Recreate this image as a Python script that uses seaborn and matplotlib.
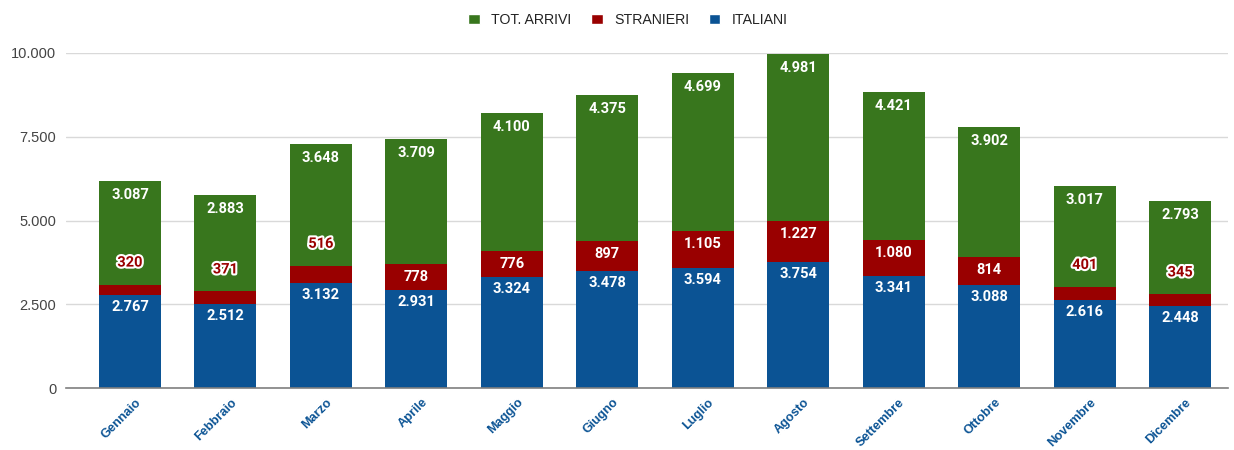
import matplotlib
matplotlib.use("Agg")
import matplotlib.pyplot as plt
import matplotlib.patheffects as pe
import matplotlib.transforms as mtrans
from matplotlib.patches import Patch
from matplotlib.ticker import FuncFormatter
import seaborn as sns
import pandas as pd

mesi = ["Gennaio", "Febbraio", "Marzo", "Aprile", "Maggio", "Giugno",
        "Luglio", "Agosto", "Settembre", "Ottobre", "Novembre", "Dicembre"]
italiani = [2767, 2512, 3132, 2931, 3324, 3478, 3594, 3754, 3341, 3088, 2616, 2448]
stranieri = [320, 371, 516, 778, 776, 897, 1105, 1227, 1080, 814, 401, 345]
tot_arrivi = [3087, 2883, 3648, 3709, 4100, 4375, 4699, 4981, 4421, 3902, 3017, 2793]

GREEN = "#38761d"
RED = "#990000"
BLUE = "#0b5394"

df = pd.DataFrame({"mese": mesi, "italiani": italiani,
                   "stranieri": stranieri, "tot": tot_arrivi})
df["top_red"] = df["italiani"] + df["stranieri"]
df["top_green"] = df["top_red"] + df["tot"]

sns.set_style("white")
plt.rcParams["font.family"] = ["Roboto", "DejaVu Sans"]
SANS = ["Liberation Sans", "DejaVu Sans"]

fig = plt.figure(figsize=(12.34, 4.5), dpi=100)
ax = fig.add_axes([66 / 1234, 1 - 388 / 450, (1228 - 66) / 1234, (388 - 53) / 450])

W = 0.65
bar_kw = dict(saturation=1, width=W, ax=ax, linewidth=0, edgecolor="none")
sns.barplot(data=df, x="mese", y="top_green", color=GREEN, zorder=2, **bar_kw)
sns.barplot(data=df, x="mese", y="top_red", color=RED, zorder=3, **bar_kw)
sns.barplot(data=df, x="mese", y="italiani", color=BLUE, zorder=4, **bar_kw)

ax.set_xlim(-0.67, 11.5)
ax.set_ylim(0, 10000)
ax.set_yticks([0, 2500, 5000, 7500, 10000])
ax.yaxis.set_major_formatter(FuncFormatter(lambda v, p: f"{int(v):,}".replace(",", ".")))
ax.grid(axis="y", color="#d9d9d9", linewidth=1, zorder=0)
ax.set_axisbelow(True)
for s in ["top", "right", "left"]:
    ax.spines[s].set_visible(False)
ax.spines["bottom"].set_color("#7f7f7f")
ax.spines["bottom"].set_linewidth(1.2)
ax.spines["bottom"].set_zorder(6)
ax.set_xlabel("")
ax.set_ylabel("")
ax.tick_params(axis="y", length=0, labelsize=10.5, labelcolor="#444444", pad=7)
for lbl in ax.get_yticklabels():
    lbl.set_family(SANS)
ax.tick_params(axis="x", length=0, pad=6)
offset = mtrans.ScaledTranslation(5 / 100, 0, fig.dpi_scale_trans)
for lbl in ax.get_xticklabels():
    lbl.set_rotation(45)
    lbl.set_ha("right")
    lbl.set_rotation_mode("anchor")
    lbl.set_color(BLUE)
    lbl.set_fontweight("bold")
    lbl.set_fontsize(9.2)
    lbl.set_family(SANS)
    lbl.set_transform(lbl.get_transform() + offset)

def fmt(v):
    return f"{v:,}".replace(",", ".")

lab_kw = dict(textcoords="offset pixels", ha="center", va="center",
              fontsize=10.5, fontweight="bold", zorder=7)
for i, r in df.iterrows():
    ax.annotate(fmt(r["tot"]), (i, r["top_green"]), xytext=(0, -14), color="white", **lab_kw)
    ax.annotate(fmt(r["italiani"]), (i, r["italiani"]), xytext=(0, -12), color="white", **lab_kw)
    if r["stranieri"] >= 600:
        ax.annotate(fmt(r["stranieri"]), (i, r["top_red"]), xytext=(0, -13), color="white", **lab_kw)
    else:
        t = ax.annotate(fmt(r["stranieri"]), (i, r["top_red"]), xytext=(0, 22), color=RED, **lab_kw)
        t.set_path_effects([pe.withStroke(linewidth=3, foreground="white")])

handles = [Patch(facecolor=GREEN, label="TOT. ARRIVI"),
           Patch(facecolor=RED, label="STRANIERI"),
           Patch(facecolor=BLUE, label="ITALIANI")]
fig.legend(handles=handles, loc="center", bbox_to_anchor=(628 / 1234, 1 - 20 / 450),
           ncol=3, frameon=False, prop={"family": SANS, "size": 10.2},
           handlelength=0.8, handleheight=0.8,
           handletextpad=0.8, columnspacing=1.4, labelcolor="#222222")

fig.savefig("out.png", dpi=100)
